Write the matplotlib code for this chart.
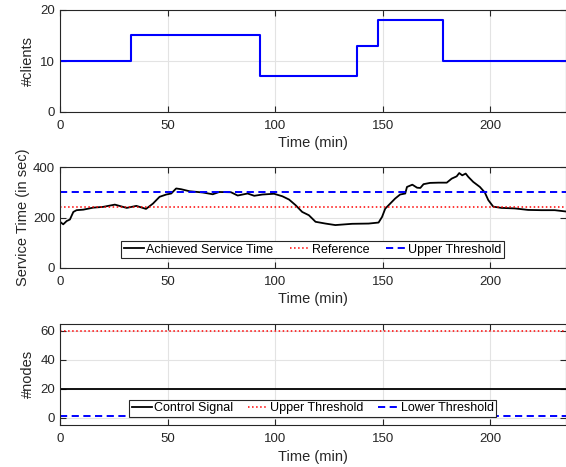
import matplotlib
matplotlib.use("Agg")
import matplotlib.pyplot as plt

plt.rcParams['font.family'] = ['Liberation Sans', 'DejaVu Sans']

# ---- data ----
client_times = [0, 33, 93, 138, 148, 178, 235]
client_levels = [10, 15, 7, 13, 18, 10, 10]

svc_time = [0, 1.5, 3.1, 4.6, 6.2, 7.7, 10.8, 15.4, 20, 25.5, 31, 35.5, 40, 43.2, 46.3,
            49.4, 51.7, 54, 56.3, 60.2, 64, 66.4, 71, 74, 79.5, 82.6, 87.2, 90.3, 94.1,
            99.5, 103.4, 106.5, 109.5, 112.6, 115.7, 118.8, 123.4, 128, 135.8, 143.5,
            148.1, 149.7, 151.2, 152.8, 155.8, 158.1, 160.5, 161.3, 163.8, 166, 167.5,
            169, 172, 176, 179.8, 182.1, 184.4, 185.6, 187, 188.6, 189.8, 192.1, 195.2,
            197.5, 199.1, 201.4, 205.2, 211.4, 217.6, 223.8, 230, 235]
svc_value = [183, 173, 186, 192, 222, 229, 231, 239, 242, 251, 238, 246, 234, 255, 282,
             291, 295, 315, 312, 304, 301, 299, 292, 301, 300, 287, 295, 286, 291,
             294, 284, 271, 249, 222, 209, 183, 176, 170, 175, 176,
             180, 202, 235, 249, 275, 291, 295, 321, 330, 318, 317,
             332, 337, 338, 338, 354, 363, 376, 367, 374, 361, 341, 321,
             299, 269, 243, 238, 236, 230, 229, 229, 224]
svc_reference = 240
svc_upper = 300

node_time = [0, 235]
control_signal = [20, 20]
node_upper = 60
node_lower = 1

xlim = (0, 235)
xticks = [0, 50, 100, 150, 200]

# ---- figure ----
W, H = 566, 467
fig = plt.figure(figsize=(W / 100, H / 100), dpi=100)

def make_ax(top_px, bottom_px):
    left = 60 / W
    right = 565.5 / W
    b = 1 - bottom_px / H
    t = 1 - top_px / H
    return fig.add_axes([left, b, right - left, t - b])

spine_c = '#262626'
tick_fs = 9.5
label_fs = 10.5
leg_fs = 9

def style(ax):
    ax.set_xlim(*xlim)
    ax.set_xticks(xticks)
    ax.grid(True, color='#e3e3e3', lw=0.8)
    ax.set_axisbelow(True)
    for s in ax.spines.values():
        s.set_color(spine_c)
        s.set_linewidth(0.8)
    ax.tick_params(direction='in', top=True, right=True, length=4, width=0.8,
                   colors=spine_c, labelsize=tick_fs, labelcolor='#262626')
    ax.tick_params(axis='x', pad=6)
    ax.set_xlabel('Time (min)', fontsize=label_fs, color='#262626', labelpad=3)

# Panel 1
ax1 = make_ax(10, 112)
ax1.plot(client_times, client_levels, drawstyle='steps-post', color='#0000ff', lw=1.5)
ax1.set_ylim(0, 20)
ax1.set_yticks([0, 10, 20])
style(ax1)
ax1.set_ylabel('#clients', fontsize=label_fs, color='#262626', labelpad=4)

# Panel 2
ax2 = make_ax(167, 268)
ax2.plot(svc_time, svc_value, color='black', lw=1.3, label='Achieved Service Time')
ax2.axhline(svc_reference, color='#ff0000', ls=':', lw=1.1, label='Reference')
ax2.axhline(svc_upper, color='#0000ff', ls=(0, (3.7, 2.3)), lw=1.4, label='Upper Threshold')
ax2.set_ylim(0, 400)
ax2.set_yticks([0, 200, 400])
style(ax2)
ax2.set_ylabel('Service Time (in sec)', fontsize=label_fs, color='#262626', labelpad=2)
leg2 = ax2.legend(ncol=3, loc='lower left', bbox_to_anchor=(0.121, 0.099), fontsize=leg_fs,
                  frameon=True, fancybox=False, edgecolor='#262626', framealpha=1,
                  handlelength=1.6, handletextpad=0.2, columnspacing=1.3,
                  borderpad=0.2, borderaxespad=0)
leg2.get_frame().set_linewidth(0.8)

# Panel 3
ax3 = make_ax(323.5, 425)
ax3.plot(node_time, control_signal, color='black', lw=1.3, label='Control Signal')
ax3.axhline(node_upper, color='#ff0000', ls=':', lw=1.1, label='Upper Threshold')
ax3.axhline(node_lower, color='#0000ff', ls=(0, (3.7, 2.3)), lw=1.4, label='Lower Threshold')
ax3.set_ylim(-5, 65)
ax3.set_yticks([0, 20, 40, 60])
style(ax3)
ax3.set_ylabel('#nodes', fontsize=label_fs, color='#262626', labelpad=4)
leg3 = ax3.legend(ncol=3, loc='lower left', bbox_to_anchor=(0.137, 0.082), fontsize=leg_fs,
                  frameon=True, fancybox=False, edgecolor='#262626', framealpha=1,
                  handlelength=1.6, handletextpad=0.2, columnspacing=1.15,
                  borderpad=0.2, borderaxespad=0)
leg3.get_frame().set_linewidth(0.8)

fig.savefig('out.png', dpi=100)
